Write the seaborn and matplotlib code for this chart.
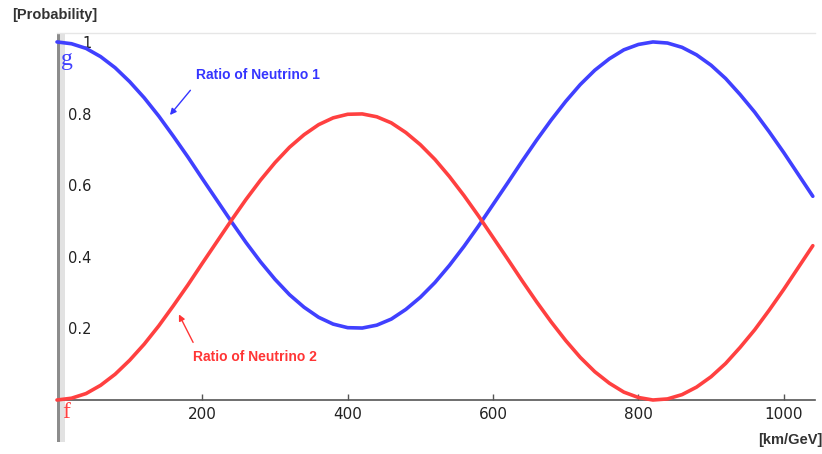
import numpy as np
import pandas as pd
import seaborn as sns
from matplotlib import pyplot as plt
from matplotlib.patches import Rectangle

# distance / energy (km/GeV), read every 20 units
dist = list(range(0, 1041, 20))
# ratio of neutrino 2 (red)
ratio_2 = [0.000, 0.005, 0.018, 0.041, 0.072, 0.111, 0.156, 0.207, 0.263, 0.321,
           0.382, 0.442, 0.502, 0.560, 0.614, 0.663, 0.706, 0.741, 0.769, 0.788,
           0.798, 0.799, 0.791, 0.774, 0.747, 0.713, 0.672, 0.624, 0.571, 0.514,
           0.454, 0.394, 0.333, 0.274, 0.218, 0.166, 0.119, 0.079, 0.047, 0.022,
           0.007, 0.000, 0.003, 0.015, 0.036, 0.065, 0.102, 0.147, 0.196, 0.251,
           0.309, 0.370, 0.431]
# ratio of neutrino 1 (blue)
ratio_1 = [1.000, 0.995, 0.982, 0.959, 0.928, 0.889, 0.844, 0.793, 0.737, 0.679,
           0.618, 0.558, 0.498, 0.440, 0.386, 0.337, 0.294, 0.259, 0.231, 0.212,
           0.202, 0.201, 0.209, 0.226, 0.253, 0.287, 0.328, 0.376, 0.429, 0.486,
           0.546, 0.606, 0.667, 0.726, 0.782, 0.834, 0.881, 0.921, 0.953, 0.978,
           0.993, 1.000, 0.997, 0.985, 0.964, 0.935, 0.898, 0.853, 0.804, 0.749,
           0.691, 0.630, 0.569]

y_ticks = [0.2, 0.4, 0.6, 0.8, 1.0]
y_labels = ['0.2', '0.4', '0.6', '0.8', '1']
x_ticks = [200, 400, 600, 800, 1000]

BLUE = '#4040ff'
RED = '#ff4040'

sns.set_style('white')
plt.rcParams['font.family'] = ['DejaVu Sans']

df = pd.DataFrame({'dist': dist + dist,
                   'ratio': ratio_1 + ratio_2,
                   'kind': ['n1'] * len(dist) + ['n2'] * len(dist)})

fig = plt.figure(figsize=(8.22, 4.54), dpi=100)
ax = fig.add_axes([57 / 822, 1 - 400 / 454, 758 / 822, 367 / 454])
ax.set_facecolor('none')

sns.lineplot(data=df, x='dist', y='ratio', hue='kind', palette={'n1': BLUE, 'n2': RED},
             linewidth=2.6, legend=False, ax=ax, zorder=3)
for ln in ax.lines:
    ln.set_clip_on(False)
    ln.set_solid_joinstyle('round')

ax.set_xlim(0, 1043)
ax.set_ylim(0, 1.025)
ax.set_xlabel('')
ax.set_ylabel('')

# spines
for s in ['right', 'left']:
    ax.spines[s].set_visible(False)
ax.spines['top'].set_color('#e6e6e6')
ax.spines['top'].set_linewidth(1)
ax.spines['bottom'].set_color('#555555')
ax.spines['bottom'].set_linewidth(1.2)

# gray band on the left
ax.add_patch(Rectangle((0, -0.115), 3 / 758, 1.115, transform=ax.transAxes,
                       color='#8c8c8c', clip_on=False, zorder=1, lw=0))
ax.add_patch(Rectangle((3 / 758, -0.115), 5 / 758, 1.115, transform=ax.transAxes,
                       color='#e2e2e2', clip_on=False, zorder=1, lw=0))

ax.set_xticks(x_ticks)
ax.set_xticklabels([str(v) for v in x_ticks])
ax.tick_params(axis='x', direction='in', length=4, width=1, color='#555555',
               labelsize=11, labelcolor='#222222', pad=5, bottom=True)
ax.set_yticks(y_ticks)
ax.set_yticklabels(y_labels)
ax.tick_params(axis='y', direction='in', length=0, labelsize=10.5,
               labelcolor='#222222', pad=-25, left=True)
for lab in ax.get_yticklabels():
    lab.set_horizontalalignment('right')

# g / f markers
ax.text(4 / 758, (400 - 60) / 367, 'g', transform=ax.transAxes, color=BLUE,
        family='Liberation Serif', fontsize=17, ha='left', va='center')
ax.text(5 / 758, -13 / 367, 'f', transform=ax.transAxes, color=RED,
        family='Liberation Serif', fontsize=17, ha='left', va='center', clip_on=False)

# labels with arrows
ax.text(277, 0.908, 'Ratio of Neutrino 1', color='#3535ff', family='Liberation Sans',
        fontweight='bold', fontsize=10, ha='center', va='center')
ax.annotate('', xy=(153, 0.79), xytext=(186, 0.871),
            arrowprops=dict(arrowstyle='-|>', color='#3535ff', lw=1, mutation_scale=9))
ax.text(272, 0.120, 'Ratio of Neutrino 2', color='#ff3535', family='Liberation Sans',
        fontweight='bold', fontsize=10, ha='center', va='center')
ax.annotate('', xy=(166, 0.246), xytext=(189, 0.154),
            arrowprops=dict(arrowstyle='-|>', color='#ff3535', lw=1, mutation_scale=9))

fig.text(12 / 822, 1 - 15 / 454, '[Probability]', family='Liberation Sans',
         fontweight='bold', fontsize=10.5, color='#333333', ha='left', va='center')
fig.text(822 / 822, 1 - 440 / 454, '[km/GeV]', family='Liberation Sans',
         fontweight='bold', fontsize=10.5, color='#333333', ha='right', va='center')

fig.savefig('out.png', dpi=100)
